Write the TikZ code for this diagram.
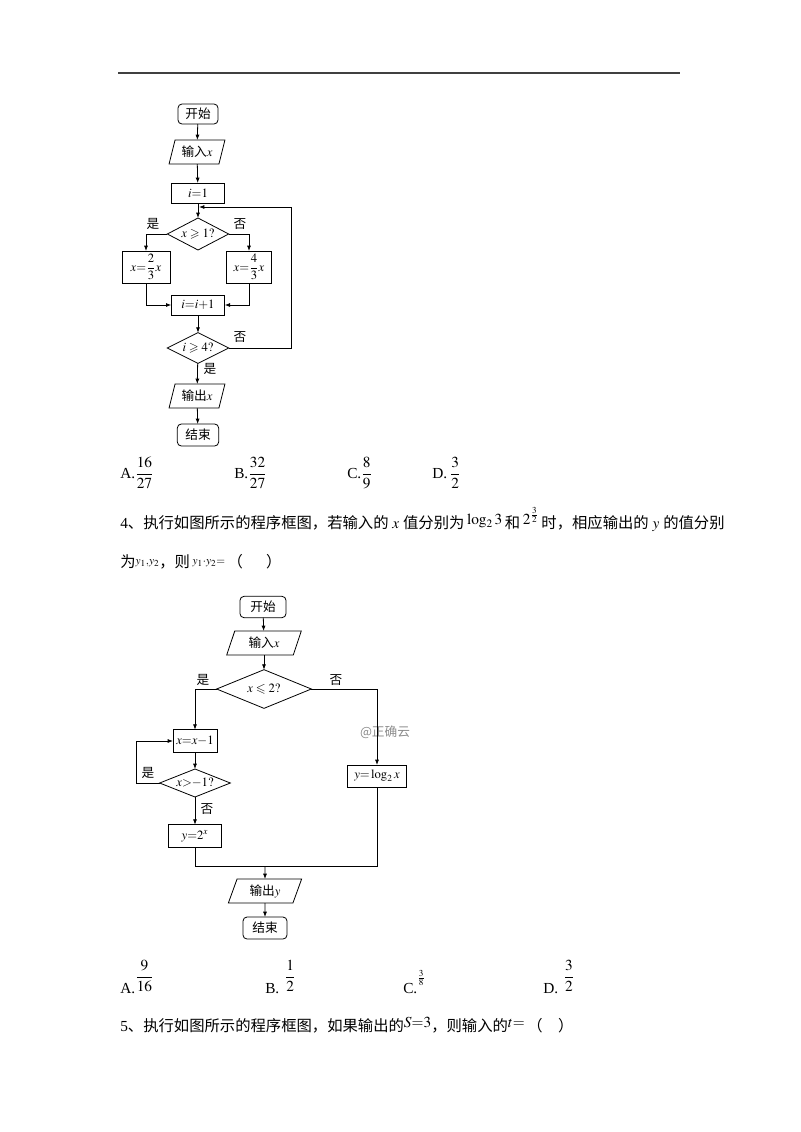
\documentclass[tikz,border=0pt]{standalone}
\usepackage{amsmath}
\usepackage{amssymb}
\usepackage{mathptmx}
\usepackage[no-math]{fontspec}
\setmainfont{Liberation Serif}
\newfontfamily\zhfont{Noto Sans CJK SC}
\usetikzlibrary{shapes.geometric}
\usetikzlibrary{arrows.meta}
\newcommand{\flowfont}{\fontsize{9.5}{10}\selectfont}
\newcommand{\bodyfont}{\fontsize{11.5}{12}\selectfont}
\tikzstyle{block}=[draw, line width=0.6pt, inner sep=0, outer sep=0, font=\flowfont]
\tikzstyle{rblock}=[block, rounded corners=3pt]
\tikzstyle{pblock}=[block, trapezium, trapezium left angle=70, trapezium right angle=110, trapezium stretches]
\tikzstyle{dblock}=[block, diamond]
\tikzstyle{flow}=[line width=0.6pt, -{Latex[length=4pt,width=3pt]}]
\tikzstyle{link}=[line width=0.6pt]
\tikzstyle{tag}=[inner sep=0, font=\flowfont\zhfont]
\tikzstyle{txt}=[inner sep=0, anchor=base west, font=\bodyfont]

\begin{document}
\begin{tikzpicture}[x=0.75pt, y=-0.75pt]
    \useasboundingbox (0,0) rectangle (800,1132);
    \draw[line width=1.2pt, black!75] (118,73) -- (680,73);

    % first chart
    \node[rblock, minimum width=30pt, minimum height=15pt] (start1) at (198,114) {\zhfont 开始};
    \node[pblock, minimum width=42pt, minimum height=18pt] (in1) at (197,152) {{\zhfont 输入}$x$};
    \node[block, minimum width=40pt, minimum height=15pt] (init1) at (198,193) {$i{=}1$};
    \node[dblock, aspect=1.9, minimum width=46pt, minimum height=24pt] (cond1) at (198,234) {$x\geqslant 1?$};
    \node[block, minimum width=36pt, minimum height=24pt] (left1) at (146,267) {$x{=}\dfrac{2}{3}x$};
    \node[block, minimum width=34pt, minimum height=24pt] (right1) at (249,267) {$x{=}\dfrac{4}{3}x$};
    \node[block, minimum width=40pt, minimum height=15pt] (inc1) at (198,305) {$i{=}i{+}1$};
    \node[dblock, aspect=2, minimum width=46pt, minimum height=23pt] (cond2) at (198,348) {$i\geqslant 4?$};
    \node[pblock, minimum width=42pt, minimum height=18pt] (out1) at (197,396) {{\zhfont 输出}$x$};
    \node[rblock, minimum width=31pt, minimum height=16.5pt] (stop1) at (198,435) {\zhfont 结束};
    \coordinate (loop1) at (291,348);
    \coordinate (back1) at (199,207);
    \node[tag] (yes1) at (153,224) {是};
    \node[tag] (no1) at (240,224) {否};
    \node[tag] (no2) at (240,337) {否};
    \node[tag] (yes2) at (210,369) {是};
    \draw[flow] (start1) -- (in1);
    \draw[flow] (in1) -- (init1);
    \draw[flow] (init1) -- (cond1);
    \draw[flow] (cond1.west) -| (left1);
    \draw[flow] (cond1.east) -| (right1);
    \draw[flow] (left1) |- (inc1);
    \draw[flow] (right1) |- (inc1);
    \draw[flow] (inc1) -- (cond2);
    \draw[flow] (cond2.east) -- (loop1) |- (back1);
    \draw[flow] (cond2) -- (out1);
    \draw[flow] (out1) -- (stop1);

    % choices
    \node[txt] (a1) at (120,478) {A.$\dfrac{16}{27}$};
    \node[txt] (b1) at (234,478) {B.$\dfrac{32}{27}$};
    \node[txt] (c1) at (347,478) {C.$\scriptstyle\dfrac{8}{9}$};
    \node[txt] (d1) at (432,478) {D.\,$\dfrac{3}{2}$};

    \node[txt] (q4) at (120,528) {4{\zhfont 、执行如图所示的程序框图，若输入的} $x$ {\zhfont 值分别为}\,\raisebox{3pt}{$\log_2 3$}\,{\zhfont 和}\,\raisebox{3pt}{$2^{\frac{3}{2}}$}\,{\zhfont 时，相应输出的} $y$ {\zhfont 的值分别}};
    \node[txt] (q4b) at (120,567) {{\zhfont 为}\raisebox{2pt}{$\scriptstyle y_1,y_2$}{\zhfont ，则}\,\raisebox{2pt}{$\scriptstyle y_1\cdot y_2=$}\,{\zhfont （\hspace{1.5em}）}};

    % second chart
    \node[rblock, minimum width=34.5pt, minimum height=16pt] (start2) at (263,607) {\zhfont 开始};
    \node[pblock, minimum width=56pt, minimum height=18pt] (in2) at (264,643) {{\zhfont 输入}$x$};
    \node[dblock, aspect=2.4, minimum width=71pt, minimum height=29pt] (cond3) at (264,689) {$x\leqslant 2?$};
    \node[block, minimum width=33pt, minimum height=17pt] (dec1) at (195,741) {$x{=}x{-}1$};
    \node[dblock, aspect=2.5, minimum width=53pt, minimum height=21pt] (cond4) at (195,783) {$x{>}{-}1?$};
    \node[block, minimum width=40pt, minimum height=17pt] (pow) at (195,836) {$y{=}2^x$};
    \node[block, minimum width=44pt, minimum height=16.5pt] (logb) at (377,776) {$y{=}\log_2 x$};
    \node[pblock, minimum width=55pt, minimum height=18pt] (out2) at (265,891) {{\zhfont 输出}$y$};
    \node[rblock, minimum width=33pt, minimum height=16.5pt] (stop2) at (265,928) {\zhfont 结束};
    \coordinate (loop2) at (136,783);
    \coordinate (join) at (265,866);
    \node[tag] (yes3) at (203,680) {是};
    \node[tag] (no3) at (336,680) {否};
    \node[tag] (yes4) at (148,773) {是};
    \node[tag] (no4) at (207,809) {否};
    \node[tag, text=black!45] (mark) at (385,732) {@正确云};
    \draw[flow] (start2) -- (in2);
    \draw[flow] (in2) -- (cond3);
    \draw[flow] (cond3.west) -| (dec1);
    \draw[flow] (cond3.east) -| (logb);
    \draw[flow] (dec1) -- (cond4);
    \draw[flow] (cond4.west) -- (loop2) |- (dec1);
    \draw[flow] (cond4) -- (pow);
    \draw[link] (pow) |- (join);
    \draw[link] (logb) |- (join);
    \draw[flow] (join) -- (out2);
    \draw[flow] (out2) -- (stop2);

    % choices
    \node[txt] (a2) at (120,993) {A.\raisebox{9pt}{$\dfrac{9}{16}$}};
    \node[txt] (b2) at (265,993) {B.\hspace{4pt}\raisebox{9pt}{$\dfrac{1}{2}$}};
    \node[txt] (c2) at (403,993) {C.\raisebox{9pt}{$\scriptstyle\frac{3}{8}$}};
    \node[txt] (d2) at (543,993) {D.\hspace{4pt}\raisebox{9pt}{$\dfrac{3}{2}$}};

    \node[txt] (q5) at (120,1031) {5{\zhfont 、执行如图所示的程序框图，如果输出的}\raisebox{3pt}{$S{=}3$}{\zhfont ，则输入的}\raisebox{3pt}{$t{=}$}\,{\zhfont （\hspace{1em}）}};
\end{tikzpicture}
\end{document}
